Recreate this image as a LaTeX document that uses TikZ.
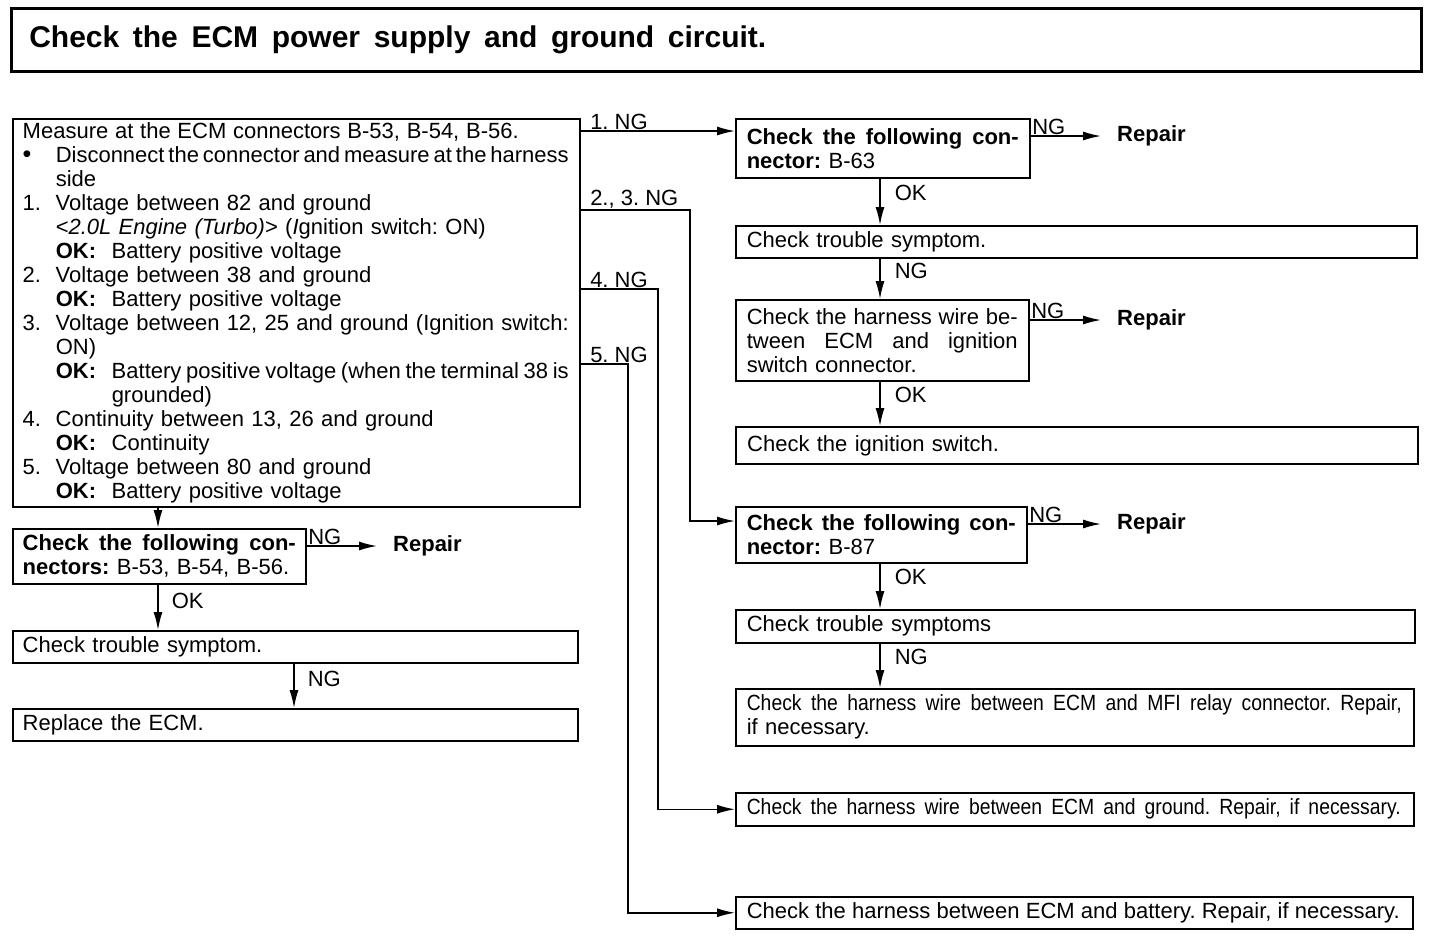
\documentclass[tikz,border=0pt]{standalone}
\usepackage{fontspec}
\setmainfont{Liberation Sans}
\newfontfamily\cond[FakeStretch=0.88]{Liberation Sans}
\usetikzlibrary{arrows.meta,calc}
\frenchspacing
\newcommand\jl[2]{\makebox[#1][s]{\spaceskip=.278em plus 2em minus .1em\relax #2}}
\newcommand\numb[1]{\makebox[33pt][l]{#1}}
\newcommand\ind{\hspace*{33pt}}
\newcommand\okk{\makebox[56pt][l]{\textbf{OK:}}}
\begin{document}
\begin{tikzpicture}[x=1pt,y=-1pt,
  box/.style={draw, line width=1.5pt, anchor=north west, inner xsep=10pt, inner ysep=2pt, align=left, font=\fontsize{22}{24}\selectfont\frenchspacing},
  lab/.style={font=\fontsize{22}{24}\selectfont, inner sep=1pt},
  con/.style={line width=1.5pt, -{Latex[length=18pt,width=9pt]}},
  rep/.style={font=\bfseries\fontsize{22}{24}\selectfont, anchor=west, inner sep=0pt}]
\useasboundingbox (0,0) rectangle (1440,938);

% title
\node[box, line width=2.6pt, minimum height=63pt, text width=1374pt, inner xsep=18pt,
      font=\bfseries\fontsize{30}{34}\selectfont] (title) at (10,7)
  {\jl{737pt}{Check the ECM power supply and ground circuit.}};

% main measurement box
\node[box, text width=547pt, minimum height=388pt] (main) at (12,118) {%
\jl{496pt}{Measure at the ECM connectors B-53, B-54, B-56.}\\
\numb{\fontsize{25}{24}\selectfont\textbullet}\jl{513pt}{Disconnect the connector and measure at the harness}\\
\ind side\\
\numb{1.}Voltage between 82 and ground\\
\ind<\textit{2.0L Engine (Turbo)}> (\textit{I}gnition switch: ON)\\
\ind\okk Battery positive voltage\\
\numb{2.}Voltage between 38 and ground\\
\ind\okk Battery positive voltage\\
\numb{3.}\jl{513pt}{Voltage between 12, 25 and ground (Ignition switch:}\\
\ind ON)\\
\ind\okk\jl{457pt}{Battery positive voltage (when the terminal 38 is}\\
\ind\hspace*{56pt}grounded)\\
\numb{4.}Continuity between 13, 26 and ground\\
\ind\okk Continuity\\
\numb{5.}Voltage between 80 and ground\\
\ind\okk Battery positive voltage};

% right column, branch 1
\node[box, inner xsep=11pt, text width=272pt, minimum height=59pt] (c1) at (735,118)
  {\jl{272pt}{\textbf{Check the following con-}}\\\textbf{nector:} B-63};
\node[box, inner xsep=11pt, text width=659pt, minimum height=32pt] (ts1) at (735,225)
  {Check trouble symptom.};
\node[box, inner xsep=11pt, text width=271pt, minimum height=81pt] (hw1) at (735,299)
  {\jl{271pt}{Check the harness wire be-}\\\jl{271pt}{tween ECM and ignition}\\switch connector.};
\node[box, line width=2.4pt, inner xsep=11pt, text width=660pt, minimum height=37pt] (ign) at (735,426)
  {Check the ignition switch.};

% right column, branch 2/3
\node[box, inner xsep=11pt, text width=269pt, minimum height=56pt] (c2) at (735,506)
  {\jl{269pt}{\textbf{Check the following con-}}\\\textbf{nector:} B-87};
\node[box, inner xsep=11pt, text width=657pt, minimum height=33pt] (ts2) at (735,609)
  {Check trouble symptoms};
\node[box, inner xsep=11pt, text width=656pt, minimum height=57pt] (mfi) at (735,688)
  {\jl{655pt}{\cond Check the harness wire between ECM and MFI relay connector. Repair,}\\if necessary.};
\node[box, inner xsep=11pt, text width=656pt, minimum height=33pt] (gnd) at (735,792)
  {\jl{654pt}{\cond Check the harness wire between ECM and ground. Repair, if necessary.}};
\node[box, inner xsep=11pt, text width=655pt, minimum height=32pt] (bat) at (735,896)
  {\jl{653pt}{Check the harness between ECM and battery. Repair, if necessary.}};

% left column
\node[box, text width=273pt, minimum height=55pt] (lc) at (12,528)
  {\jl{273pt}{\textbf{Check the following con-}}\\\textbf{nectors:} B-53, B-54, B-56.};
\node[box, text width=545pt, minimum height=32pt] (lts) at (12,630) {Check trouble symptom.};
\node[box, text width=545pt, minimum height=32pt] (rpl) at (12,708) {Replace the ECM.};

% repair targets
\node[rep] (r1) at (1117,136) {Repair};
\node[rep] (r2) at (1117,320) {Repair};
\node[rep] (r3) at (1117,524) {Repair};
\node[rep] (r4) at (393,546) {Repair};

% bend coordinates
\coordinate (v23) at (690,0);
\coordinate (v4) at (658,0);
\coordinate (v5) at (628,0);
\coordinate (cr) at (880,0);
\coordinate (cl) at (158,0);
\coordinate (cl2) at (294,0);

% branches from main box
\draw[con] (main.east |- 0,131) -- node[lab, anchor=south west, pos=0, xshift=8pt] {1. NG} (c1.west |- 0,131);
\draw[con] (main.east |- 0,210) -- node[lab, anchor=south west, pos=0, xshift=8pt] {2., 3. NG} (v23 |- 0,210)
  -- (v23 |- 0,521) -- (c2.west |- 0,521);
\draw[con] (main.east |- 0,289) -- node[lab, anchor=south west, pos=0, xshift=8pt] {4. NG} (v4 |- 0,289)
  -- (v4 |- gnd.west) -- (gnd.west);
\draw[con] (main.east |- 0,364) -- node[lab, anchor=south west, pos=0, xshift=8pt] {5. NG} (v5 |- 0,364)
  -- (v5 |- bat.west) -- (bat.west);

% right verticals
\draw[con] (c1.south -| cr) -- node[lab, anchor=west, pos=0.3, xshift=13pt] {OK} (ts1.north -| cr);
\draw[con] (ts1.south -| cr) -- node[lab, anchor=west, pos=0.3, xshift=13pt] {NG} (hw1.north -| cr);
\draw[con] (hw1.south -| cr) -- node[lab, anchor=west, pos=0.3, xshift=13pt] {OK} (ign.north -| cr);
\draw[con] (c2.south -| cr) -- node[lab, anchor=west, pos=0.3, xshift=13pt] {OK} (ts2.north -| cr);
\draw[con] (ts2.south -| cr) -- node[lab, anchor=west, pos=0.3, xshift=13pt] {NG} (mfi.north -| cr);

% NG -> Repair
\draw[con, shorten >=16pt] (c1.east |- r1.west) -- node[lab, anchor=south west, pos=0] {NG} (r1.west);
\draw[con, shorten >=16pt] (hw1.east |- r2.west) -- node[lab, anchor=south west, pos=0] {NG} (r2.west);
\draw[con, shorten >=16pt] (c2.east |- r3.west) -- node[lab, anchor=south west, pos=0] {NG} (r3.west);
\draw[con, shorten >=16pt] (lc.east |- r4.west) -- node[lab, anchor=south west, pos=0] {NG} (r4.west);

% left verticals
\draw[con] (main.south -| cl) -- (lc.north -| cl);
\draw[con] (lc.south -| cl) -- node[lab, anchor=west, pos=0.35, xshift=12pt] {OK} (lts.north -| cl);
\draw[con] (lts.south -| cl2) -- node[lab, anchor=west, pos=0.35, xshift=12pt] {NG} (rpl.north -| cl2);
\end{tikzpicture}
\end{document}
